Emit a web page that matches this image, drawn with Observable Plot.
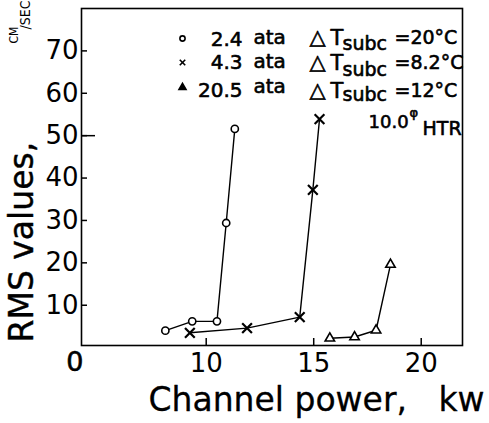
<!DOCTYPE html>
<html><head><meta charset="utf-8">
<script src="https://cdn.jsdelivr.net/npm/d3@7"></script>
<script src="https://cdn.jsdelivr.net/npm/@observablehq/plot@0.6"></script>
<style>body{margin:0;background:#fff}</style>
</head><body><div id="chart"></div>
<script>
// Data
const power24 = [8.1, 9.35, 10.5, 10.93, 11.33];
const rms24   = [4.0, 6.2, 6.2, 29.4, 51.6];
const power43 = [9.24, 11.9, 14.35, 14.96, 15.27];
const rms43   = [3.5, 4.6, 7.2, 37.2, 53.9];
const power205 = [15.75, 16.9, 17.9, 18.57];
const rms205   = [2.2, 2.5, 4.1, 19.6];

const xTicks = [10, 15, 20];
const yTicks = [10, 20, 30, 40, 50, 60, 70];
const longYTicks = [50];
const pressures = ["2.4", "4.3", "20.5"];
const dTsubc = ["=20°C", "=8.2°C", "=12°C"];
const symbols = ["circle", "times", "triangle"];

const pts = (xs, ys) => xs.map((x, i) => ({x, y: ys[i]}));
const s24 = pts(power24, rms24), s43 = pts(power43, rms43), s205 = pts(power205, rms205);

const W = 489, H = 423, mL = 81, mT = 8, mR = 27, mB = 78;
const frameW = W - mL - mR, frameH = H - mT - mB;
const heavy = {fill: "black", stroke: "black", strokeWidth: 0.6};

const T = (text, o) => Plot.text([text], {text: d => d, frameAnchor: "top-left", textAnchor: "start", lineAnchor: "bottom", ...heavy, ...o});

// legend layout (offsets from frame top-left)
const markDy = [30, 54, 79];
const presDy = [37, 60, 88];
const ataDy = [35, 59, 84];
const dtDy = [35, 60, 88];
const subDy = [41, 67, 92];

const legend = [];
symbols.forEach((s, i) => {
  legend.push(Plot.dot([0], {frameAnchor: "top-left", dx: 101, dy: markDy[i], symbol: s,
    r: 2.6, stroke: "black", strokeWidth: 1.6, fill: s === "triangle" ? "black" : "none"}));
  legend.push(T(pressures[i], {dx: 161, dy: presDy[i], textAnchor: "end", fontSize: 20}));
  legend.push(T("ata", {dx: 172, dy: ataDy[i], fontSize: 20}));
  legend.push(T("△", {dx: 228, dy: dtDy[i], fontSize: 21}));
  legend.push(T("T", {dx: 249, dy: dtDy[i] + 1, fontSize: 21}));
  legend.push(T("subc", {dx: 261, dy: subDy[i], fontSize: 19}));
  legend.push(T(dTsubc[i], {dx: 313, dy: dtDy[i], fontSize: 19, ariaLabel: "dt"}));
});
legend.push(T("10.0", {dx: 287, dy: 119, fontSize: 18}));
legend.push(T("φ", {dx: 328, dy: 108, fontSize: 13}));
legend.push(T("HTR", {dx: 341, dy: 126, fontSize: 19}));

const line = (data, sym, r) => [
  Plot.line(data, {x: "x", y: "y", stroke: "black", strokeWidth: 1.4}),
  Plot.dot(data, {x: "x", y: "y", symbol: sym, r, stroke: "black", strokeWidth: sym === "times" ? 2.2 : 1.6, fill: sym === "times" ? "none" : "white"})
];

const chart = Plot.plot({
  width: W, height: H,
  marginLeft: mL, marginTop: mT, marginRight: mR, marginBottom: mB,
  style: {fontFamily: "DejaVu Sans", background: "white", color: "black"},
  x: {domain: [4.2, 21.92], label: null},
  y: {domain: [0.5, 80], label: null},
  marks: [
    Plot.frame({stroke: "black", strokeWidth: 1.6}),
    // inward ticks
    Plot.ruleX(xTicks, {x: d => d, insetTop: frameH - 7, stroke: "black", strokeWidth: 1.5}),
    Plot.ruleY(yTicks, {y: d => d, insetRight: frameW - 6, stroke: "black", strokeWidth: 1.5}),
    Plot.ruleY(longYTicks, {y: d => d, insetRight: frameW - 14, stroke: "black", strokeWidth: 1.5}),
    Plot.axisX({ticks: xTicks, tickSize: 0, tickPadding: 8, fontSize: 26, label: null, ...heavy}),
    Plot.axisY({ticks: yTicks, tickSize: 0, tickPadding: 3, fontSize: 26, label: null, ...heavy}),
    Plot.text(["0"], {text: d => d, frameAnchor: "bottom-left", dx: 2, dy: 6, textAnchor: "end", lineAnchor: "top", fontSize: 27, ...heavy}),
    Plot.text(["RMS values,"], {text: d => d, frameAnchor: "bottom-left", rotate: -90, dx: -59, dy: -3, textAnchor: "start", lineAnchor: "middle", fontSize: 33, ariaLabel: "ylabel", fill: "black", stroke: "black", strokeWidth: 0.4}),
    Plot.text(["CM"], {text: d => d, frameAnchor: "top-left", rotate: -90, dx: -67, dy: 35, textAnchor: "start", lineAnchor: "middle", fontSize: 12, fontFamily: "DejaVu Sans Condensed", fill: "black"}),
    Plot.text(["/SEC"], {text: d => d, frameAnchor: "top-left", rotate: -90, dx: -56, dy: 21, textAnchor: "start", lineAnchor: "middle", fontSize: 14, fontFamily: "DejaVu Sans Condensed", ariaLabel: "unit", fill: "black"}),
    Plot.text(["Channel power,   kw"], {text: d => d, frameAnchor: "bottom-left", dx: 67, dy: 65, textAnchor: "start", lineAnchor: "bottom", fontSize: 33, ariaLabel: "xlabel", fill: "black", stroke: "black", strokeWidth: 0.3}),
    ...line(s24, "circle", 3.6),
    ...line(s43, "times", 4.5),
    ...line(s205, "triangle", 3.5),
    ...legend
  ]
});
d3.select(chart).selectAll('g[aria-label="ylabel"] text').style("letter-spacing", "5px");
d3.select(chart).selectAll('g[aria-label="unit"] text').style("letter-spacing", "-0.8px");
d3.select(chart).selectAll('g[aria-label="xlabel"] text').style("white-space", "pre");
d3.select(chart).selectAll('g[aria-label="dt"] text').style("letter-spacing", "-0.8px");
document.getElementById("chart").append(chart);
</script>
</body></html>
